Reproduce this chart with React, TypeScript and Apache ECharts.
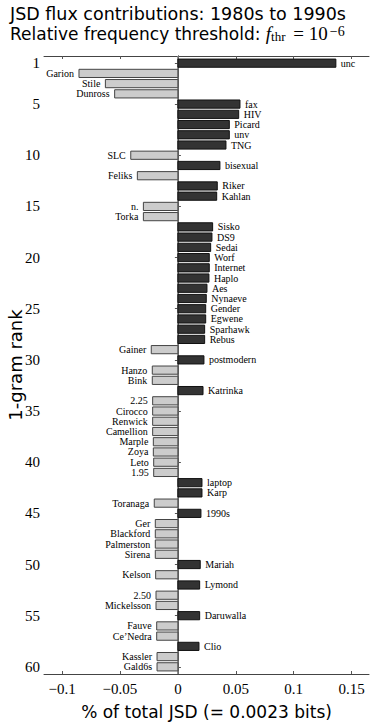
import React, { useEffect, useRef } from "react";
import * as echarts from "echarts";

const words = [
  "unc", "Garion", "Stile", "Dunross", "fax", "HIV", "Picard", "unv", "TNG", "SLC",
  "bisexual", "Feliks", "Riker", "Kahlan", "n.", "Torka", "Sisko", "DS9", "Sedai", "Worf",
  "Internet", "Haplo", "Aes", "Nynaeve", "Gender", "Egwene", "Sparhawk", "Rebus", "Gainer", "postmodern",
  "Hanzo", "Bink", "Katrinka", "2.25", "Cirocco", "Renwick", "Camellion", "Marple", "Zoya", "Leto",
  "1.95", "laptop", "Karp", "Toranaga", "1990s", "Ger", "Blackford", "Palmerston", "Sirena", "Mariah",
  "Kelson", "Lymond", "2.50", "Mickelsson", "Daruwalla", "Fauve", "Ce\u2019Nedra", "Clio", "Kassler", "Gald6s",
];

const values = [
  0.1364, -0.0854, -0.0626, -0.0546, 0.0536, 0.0525, 0.0444, 0.0444, 0.0415, -0.0407,
  0.0363, -0.035, 0.034, 0.0335, -0.0298, -0.0298, 0.03, 0.0294, 0.0283, 0.0271,
  0.0271, 0.0268, 0.0251, 0.0245, 0.024, 0.024, 0.0231, 0.0231, -0.023, 0.0225,
  -0.0221, -0.0221, 0.0217, -0.0218, -0.0218, -0.0218, -0.0218, -0.0212, -0.0212, -0.0209,
  -0.0209, 0.0208, 0.0208, -0.0204, 0.0199, -0.0195, -0.0195, -0.0195, -0.0195, 0.0193,
  -0.0192, 0.0188, -0.0189, -0.0189, 0.0188, -0.0183, -0.0183, 0.0182, -0.018, -0.018,
];

const xTicks = [-0.1, -0.05, 0, 0.05, 0.1, 0.15];
const yTicks = [1, 5, 10, 15, 20, 25, 30, 35, 40, 45, 50, 55, 60];

const SERIF = '"Liberation Serif", "DejaVu Serif", serif';

export default function App() {
  const ref = useRef<HTMLDivElement>(null);
  useEffect(() => {
    if (!ref.current) return;
    const chart = echarts.init(ref.current, null, { renderer: "svg" });
    const data = values.map((v, i) => [v, i + 1, words[i]]);
    const axisLine = { show: true, lineStyle: { color: "#444", width: 1 } };
    const tickStyle = { color: "#555", width: 1 };
    const fmtX = (v: number) => (v < 0 ? "\u2212" + String(Math.abs(v)) : String(v));
    chart.setOption({
      animation: false,
      backgroundColor: "#fff",
      grid: { left: 44, right: 5, top: 56, bottom: 50, containLabel: false, outerBoundsMode: "none" },
      graphic: [
        {
          type: "text",
          left: 10,
          top: 5,
          style: {
            text: "JSD flux contributions: 1980s to 1990s",
            fontFamily: "DejaVu Sans",
            fontSize: 17.5,
            lineHeight: 17,
            fill: "#000",
          },
        },
        {
          type: "text",
          left: 10,
          top: 24,
          style: {
            text: "Relative frequency threshold: {f|f}{sub|thr}{eq| = 10}{sup|\u22126}",
            fontFamily: "DejaVu Sans",
            fontSize: 17,
            lineHeight: 19,
            fill: "#000",
            rich: {
              f: { fontFamily: "Liberation Serif", fontStyle: "italic", fontSize: 19, lineHeight: 19 },
              sub: { fontFamily: "Liberation Serif", fontSize: 13, lineHeight: 12, verticalAlign: "bottom" },
              eq: { fontFamily: "Liberation Serif", fontSize: 19, lineHeight: 19, padding: [0, 2, 0, 3] },
              sup: { fontFamily: "Liberation Serif", fontSize: 14, lineHeight: 12, verticalAlign: "top" },
            },
          },
        },
      ],
      xAxis: [
        {
          type: "value",
          position: "bottom",
          min: -0.1156,
          max: 0.165,
          axisLine,
          splitLine: { show: false },
          axisTick: { show: true, inside: true, length: 3, lineStyle: tickStyle, customValues: xTicks },
          axisLabel: {
            customValues: xTicks,
            formatter: fmtX,
            fontFamily: "Liberation Serif",
            fontSize: 15,
            color: "#000",
            margin: 7,
          },
          name: "% of total JSD (= 0.0023 bits)",
          nameLocation: "middle",
          nameGap: 29,
          nameMoveOverlap: false,
          nameTextStyle: { fontFamily: "DejaVu Sans", fontSize: 17, color: "#000" },
        },
        {
          type: "value",
          position: "top",
          min: -0.1156,
          max: 0.165,
          axisLine,
          splitLine: { show: false },
          axisTick: { show: true, inside: true, length: 3, lineStyle: tickStyle, customValues: xTicks },
          axisLabel: { show: false },
        },
      ],
      yAxis: [
        {
          type: "value",
          position: "left",
          inverse: true,
          min: 0.3,
          max: 60.7,
          axisLine,
          splitLine: { show: false },
          axisTick: { show: true, inside: true, length: 3, lineStyle: tickStyle, customValues: yTicks },
          axisLabel: {
            customValues: yTicks,
            fontFamily: "Liberation Serif",
            fontSize: 15,
            color: "#000",
            margin: 4,
          },
          name: "1-gram rank",
          nameLocation: "middle",
          nameRotate: 90,
          nameGap: 20,
          nameMoveOverlap: false,
          nameTextStyle: { fontFamily: "DejaVu Sans", fontSize: 18, color: "#000" },
        },
        {
          type: "value",
          position: "right",
          inverse: true,
          min: 0.3,
          max: 60.7,
          axisLine,
          splitLine: { show: false },
          axisTick: { show: true, inside: true, length: 3, lineStyle: tickStyle, customValues: yTicks },
          axisLabel: { show: false },
        },
      ],
      series: [
        {
          type: "line",
          xAxisIndex: 0,
          yAxisIndex: 0,
          data: [[0, 0.3], [0, 60.7]],
          symbol: "none",
          lineStyle: { color: "#808080", width: 1.5 },
          silent: true,
          z: 1,
        },
        {
          type: "custom",
          xAxisIndex: 0,
          yAxisIndex: 0,
          data,
          z: 2,
          renderItem: (params: any, api: any) => {
            const v = api.value(0) as number;
            const r = api.value(1) as number;
            const i = params.dataIndex;
            const p0 = api.coord([0, r]);
            const p1 = api.coord([v, r]);
            const h = Math.abs(api.size([0, 0.8])[1]);
            const pos = v > 0;
            const x = Math.min(p0[0], p1[0]);
            const w = Math.abs(p1[0] - p0[0]);
            return {
              type: "group",
              children: [
                {
                  type: "rect",
                  shape: { x, y: p0[1] - h / 2, width: w, height: h },
                  style: {
                    fill: pos ? "#333333" : "#cccccc",
                    stroke: pos ? "#111111" : "#444444",
                    lineWidth: 1,
                  },
                },
                {
                  type: "text",
                  style: {
                    text: words[i],
                    x: pos ? p1[0] + 5 : p1[0] - 5,
                    y: p0[1],
                    align: pos ? "left" : "right",
                    verticalAlign: "middle",
                    font: "10px " + SERIF,
                    fill: "#000",
                  },
                },
              ],
            };
          },
        },
      ],
    });
    return () => chart.dispose();
  }, []);
  return (
    <div
      ref={ref}
      style={{ position: "fixed", left: 0, top: 0, width: 374, height: 724, background: "#fff" }}
    />
  );
}
